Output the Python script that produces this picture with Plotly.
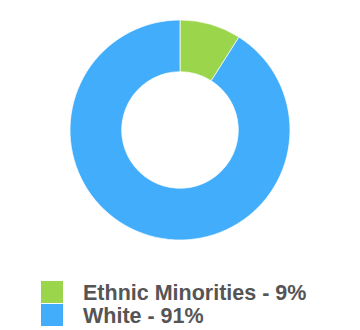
import plotly.graph_objects as go

labels = ["Ethnic Minorities", "White"]
values = [9, 91]
colors = ["#9bd54b", "#42adfb"]

fig = go.Figure()
fig.add_trace(go.Pie(
    labels=labels, values=values, hole=0.53, sort=False,
    direction="clockwise", rotation=0,
    marker=dict(colors=colors, line=dict(color="white", width=0.7)),
    textinfo="none", hoverinfo="none", showlegend=False,
    domain=dict(x=[0, 1], y=[(330 - 240) / 330, (330 - 20) / 330]),
))

total = sum(values)
row_y = [292, 315]
for lab, val, col, yc in zip(labels, values, colors, row_y):
    y_paper = (330 - yc) / 330
    fig.add_shape(type="rect", xref="paper", yref="paper",
                  x0=41 / 360, x1=63 / 360,
                  y0=y_paper - 11 / 330, y1=y_paper + 11 / 330,
                  fillcolor=col, line=dict(width=0))
    fig.add_annotation(xref="paper", yref="paper", x=81 / 360, y=(330 - yc - 1) / 330,
                       xanchor="left", yanchor="middle", showarrow=False,
                       text=f"<b>{lab} - {round(val / total * 100)}%</b>",
                       font=dict(family="Liberation Sans, Arial", size=21.5, color="#555555"))

fig.update_layout(width=360, height=330, margin=dict(l=0, r=0, t=0, b=0),
                  paper_bgcolor="white", plot_bgcolor="white")
fig.write_html("out.html")
